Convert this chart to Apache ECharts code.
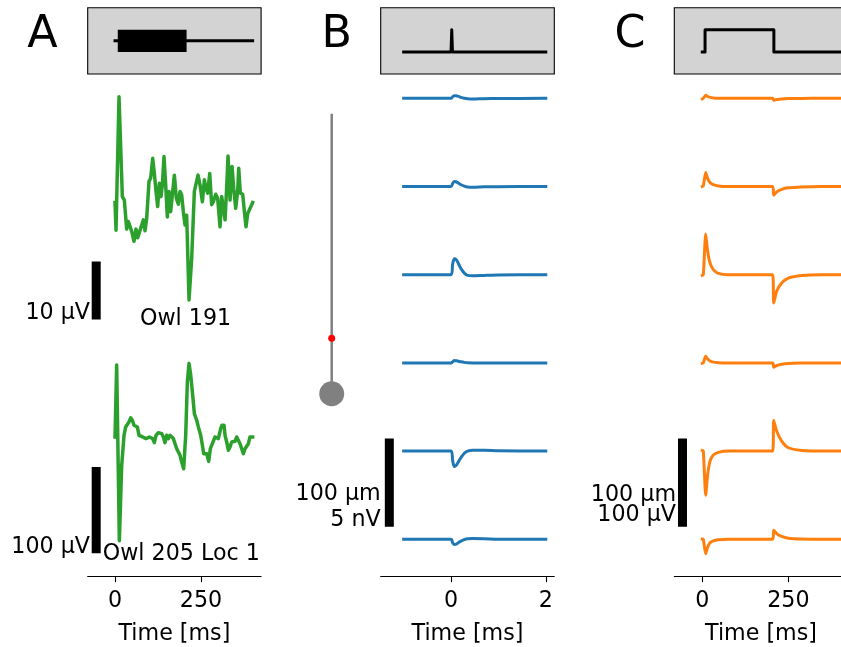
<!DOCTYPE html>
<html>
<head>
<meta charset="utf-8">
<title>Owl recordings</title>
<script src="https://cdn.jsdelivr.net/npm/echarts@6/dist/echarts.min.js"></script>
<style>
  html, body { margin: 0; padding: 0; background: #fff; }
  #main { width: 841px; height: 647px; }
</style>
</head>
<body>
<div id="main"></div>
<script>
// ---- data ----
// A: recorded traces, time in ms, voltage in uV
var aTime1 = [0, 2.9, 11.6, 21.3, 27.1, 33.9, 38.8, 43.6, 48.4, 55.2, 61.0, 65.9, 71.7, 77.5, 82.4, 87.2, 92.1, 98.8, 103.7, 109.5,
  114.3, 119.2, 124.0, 128.9, 133.7, 137.6, 142.4, 147.3, 152.1, 157.0, 161.8, 166.7, 172.5, 178.3, 184.1, 189.0, 193.8, 198.6, 203.5, 208.3,
  215.1, 222.9, 230.6, 235.5, 241.3, 247.1, 253.9, 259.7, 264.5, 269.4, 275.2, 281.0, 285.9, 292.6, 298.4, 305.2, 310.1, 315.9, 319.8, 324.6,
  328.5, 334.3, 340.1, 345.0, 350.8, 356.6, 359.5, 364.3, 371.1, 376.0, 380.8, 385.7, 390.5, 397.3, 400];
var aVolt1 = [0.1, -4.7, 18.3, 1.1, 0.5, -4.5, -3.2, -3.3, -4.9, -6.6, -4.5, -6.0, -4.9, -4.7, -2.9, -4.8, -2.6, 3.7, 4.3, 7.7,
  5.1, 2.0, -0.6, 3.4, 1.1, 3.1, 8.0, 3.1, -2.4, 2.0, -1.5, 1.4, 4.8, 0.8, -0.2, 2.0, 1.4, -1.5, -3.8, -2.1,
  -16.7, -9.5, 2.0, 2.2, 4.8, 3.1, 0.2, 4.0, 2.5, 1.7, 5.1, -0.3, 0.2, 1.5, 0.8, -4.1, 1.1, 1.1, -2.9, 2.8,
  8.1, 0.5, 6.3, 2.5, -0.9, 2.2, 6.0, 1.7, 1.5, -1.5, -4.1, -1.8, -1.6, -0.3, 0.1];
var aTime2 = [0, 4.8, 12.6, 19.4, 26.2, 31.0, 35.9, 40.7, 45.5, 50.4, 55.2, 60.1, 64.9, 69.8, 75.6, 80.4, 85.3, 90.1, 95.0, 99.8,
  104.7, 109.5, 114.3, 119.2, 126.0, 130.8, 135.7, 140.5, 145.3, 150.2, 155.0, 159.9, 164.7, 169.6, 174.4, 179.3, 184.1, 189.0, 193.8, 199.6,
  205.4, 210.3, 215.1, 220.0, 225.8, 230.6, 237.4, 242.2, 249.0, 253.9, 257.8, 261.6, 266.5, 272.3, 277.1, 281.0, 285.9, 290.7, 296.5, 300.4,
  307.2, 311.0, 316.9, 319.8, 324.6, 329.5, 334.3, 339.1, 344.0, 348.8, 353.7, 358.5, 363.4, 368.2, 373.1, 377.9, 382.8, 387.6, 392.4, 397.3, 400];
var aVolt2 = [0, 83.3, -120.2, -32.9, 1.9, 11.6, 13.6, 17.4, 22.1, 19.4, 13.6, 15.5, 11.6, 1.9, 1.9, 0, 0, -1.9, -3.9, 0,
  1.9, -1.9, -6.6, 1.9, 5.0, 5.8, 3.9, 0, -6.6, 1.9, -1.9, 1.9, 3.9, -1.9, -7.8, -13.6, -15.5, -21.3, -29.1, -36.8,
  1.9, 64.0, 85.3, 71.7, 48.4, 27.1, 19.4, 11.6, 1.9, -9.7, -19.4, -21.3, -19.4, -28.3, -13.6, -9.7, -11.6, 0, 1.9, -1.9,
  9.7, 13.6, 13.6, 1.9, -5.8, -15.5, -11.6, -5.8, -7.8, -5.0, 0, 1.9, -7.8, -13.6, -19.4, -13.6, -11.6, -7.8, 0, 1.9, 0];

// electrode depths for B and C, um (top trace first)
var depths = [500, 400, 300, 200, 100, 0];

// B: simulated traces, time in ms, nV
var bTime = [-1, 0, 0.035, 0.07, 0.105, 0.14, 0.175, 0.21, 0.28, 0.35, 0.46, 0.7, 1.0, 2];
var bValues = [
  [0, 0, 0.09, 0.15, 0.14, 0.12, 0.09, 0.05, 0.0, -0.03, -0.04, -0.02, -0.01, 0],
  [0, 0, 0.18, 0.28, 0.27, 0.22, 0.16, 0.10, 0.02, -0.03, -0.04, -0.02, -0.01, 0],
  [0, 0, 0.62, 0.91, 0.86, 0.72, 0.52, 0.34, 0.09, -0.04, -0.06, -0.04, -0.02, 0],
  [0, 0, 0.07, 0.13, 0.12, 0.11, 0.08, 0.06, 0.03, 0.01, 0, -0.01, 0, 0],
  [0, 0, -0.55, -0.87, -0.82, -0.68, -0.52, -0.37, -0.12, 0.0, 0.05, 0.05, 0.02, 0],
  [0, 0, -0.20, -0.30, -0.28, -0.22, -0.15, -0.10, -0.02, 0.03, 0.04, 0.03, 0.01, 0]
];

// C: simulated traces, time in ms, uV
var cTime = [0, 3, 9.8, 15.6, 22.4, 32, 46.6, 75.7, 204.6, 207.5, 216, 230.7, 250, 289, 347, 425];
var cValues = [
  [-0.8, 0, 3.4, 2.0, 1.0, 0.4, 0.1, 0, 0, -2.3, -1.4, -0.7, -0.3, -0.1, 0, 0],
  [0, 0.8, 15.9, 9.0, 4.5, 2.0, 0.6, 0, 0, -9.8, -6.2, -3.2, -1.5, -0.5, 0, 0],
  [-0.8, 0, 46, 26.5, 13.2, 5.7, 1.5, 0, 0, -32.1, -18.9, -9.4, -3.8, -0.8, 0, 0],
  [-0.5, 0, 7.6, 4.3, 2.1, 0.9, 0.3, 0, 0, -4.9, -3.0, -1.5, -0.6, -0.2, 0, 0],
  [0.8, 0, -50, -26.5, -11.3, -4.5, -1.5, 0, 0, 34.8, 22.7, 11.3, 3.8, 0.8, 0, 0],
  [0.3, 0, -16.3, -8.7, -4.0, -1.8, -0.6, 0, 0, 10.2, 6.5, 3.2, 1.2, 0.3, 0, 0]
];

// stimuli shown in the grey insets
var stimATime = [0, 400];          // recording window
var stimABar = [8, 208];           // stimulus on
var stimBTime = [-1, 0, 0.015, 0.03, 2];
var stimBVal = [0, 0, 1, 0, 0];
var stimCTime = [0, 8, 8, 208, 208, 425];
var stimCVal = [0, 0, 1, 1, 0, 0];

// neuron morphology (um, same scale as electrode depths)
var dendriteTop = 481, somaDepth = 165, synapseDepth = 228;

// scale bars: [x position, bottom, length]
var barA1 = [-54.7, -20.1, 10];     // 10 uV
var barA2 = [-54.7, -134.9, 100];   // 100 uV
var barB = [-1.303, 14.3, 100];     // 100 um / 5 nV
var barC = [-57.6, 14.3, 100];      // 100 um / 100 uV
var nVperUm = 5 / 100, uVperUm = 100 / 100;

// ---- chart ----
var FONT = 'DejaVu Sans';
var GREEN = '#2ca02c', BLUE = '#1f77b4', ORANGE = '#ff7f0e';

function zip(xs, ys) {
  return xs.map(function (x, i) { return [x, ys[i]]; });
}
function hidden(min, max) {
  return { type: 'value', show: false, min: min, max: max, splitLine: { show: false } };
}
function timeAxis(gridIndex, min, max, ticks) {
  return {
    type: 'value', gridIndex: gridIndex, min: min, max: max,
    axisLine: { show: true, onZero: false, lineStyle: { color: '#000', width: 1.1 } },
    axisTick: { show: true, length: 5.5, customValues: ticks, lineStyle: { color: '#000', width: 1.1 } },
    axisLabel: { customValues: ticks, fontSize: 22.2, fontFamily: FONT, color: '#000', margin: 14 },
    splitLine: { show: false },
    name: 'Time [ms]', nameLocation: 'middle', nameGap: 47,
    nameTextStyle: { fontSize: 22.2, fontFamily: FONT, color: '#000' }
  };
}
function grid(left, top, width, height, inset) {
  var g = { left: left, top: top, width: width, height: height, containLabel: false, outerBoundsMode: 'none' };
  if (inset) {
    g.show = true; g.backgroundColor = '#d3d3d3'; g.borderColor = '#000'; g.borderWidth = 1.1;
  }
  return g;
}
function line(idx, data, color, width, extra) {
  var s = {
    type: 'line', xAxisIndex: idx, yAxisIndex: idx, data: data,
    showSymbol: false, symbol: 'none', silent: true, animation: false,
    lineStyle: { color: color, width: width, cap: 'square', join: 'round' }
  };
  for (var k in extra) s[k] = extra[k];
  return s;
}
function bar(idx, b) {
  return line(idx, [[b[0], b[1]], [b[0], b[1] + b[2]]], '#000', 9, { lineStyle: { color: '#000', width: 9, cap: 'butt' } });
}
function text(str, x, y, align, size) {
  return {
    type: 'text', z: 100, silent: true,
    style: { text: str, x: x, y: y, align: align, verticalAlign: 'middle', fontSize: size || 22.2, fontFamily: FONT, fill: '#000' }
  };
}

var aMin = -79.4, aMax = 424.6, cMin = -81.4, cMax = 422.6, bMin = -1.485, bMax = 2.18;
var dMin = -42.4, dMax = 519.6;

var grids = [
  grid(87.7, 7.7, 173.4, 66.3, true),    // 0 A inset
  grid(87.7, 85, 173.4, 240),            // 1 A upper trace
  grid(87.7, 340, 173.4, 236.7),         // 2 A lower trace
  grid(380.7, 7.7, 173.6, 66.3, true),   // 3 B inset
  grid(380.7, 81, 173.6, 495.7),         // 4 B traces
  grid(299.7, 81, 64, 495.7),            // 5 neuron
  grid(674.3, 7.7, 173.4, 66.3, true),   // 6 C inset
  grid(674.3, 81, 173.4, 495.7)          // 7 C traces
];

var xAxes = [
  hidden(aMin, aMax),
  hidden(aMin, aMax),
  timeAxis(2, aMin, aMax, [0, 250]),
  hidden(bMin, bMax),
  timeAxis(4, bMin, bMax, [0, 2]),
  hidden(-1, 1),
  hidden(cMin, cMax),
  timeAxis(7, cMin, cMax, [0, 250])
];
var yAxes = [
  hidden(-1, 2), hidden(-21.03, 20.34), hidden(-162.0, 112.4),
  hidden(-1, 2), hidden(dMin, dMax), hidden(dMin, dMax),
  hidden(-1, 2), hidden(dMin, dMax)
];
xAxes.forEach(function (a, i) { a.gridIndex = i; });
yAxes.forEach(function (a, i) { a.gridIndex = i; });

var series = [];
// A
series.push(line(0, zip(stimATime, [0.5, 0.5]), '#000', 3));
series.push(line(0, zip(stimABar, [0.5, 0.5]), '#000', 22, { lineStyle: { color: '#000', width: 22.1, cap: 'butt' } }));
series.push(line(1, zip(aTime1, aVolt1), GREEN, 3.5));
series.push(line(2, zip(aTime2, aVolt2), GREEN, 3.5));
series.push(bar(1, barA1));
series.push(bar(2, barA2));
// B
series.push(line(3, zip(stimBTime, stimBVal), '#000', 3));
bValues.forEach(function (vals, i) {
  series.push(line(4, bTime.map(function (t, j) { return [t, depths[i] + vals[j] / nVperUm]; }), BLUE, 3, { smooth: 0.3 }));
});
series.push(bar(4, barB));
series.push(line(5, [[0, dendriteTop], [0, somaDepth]], '#808080', 2.5));
series.push({ type: 'scatter', xAxisIndex: 5, yAxisIndex: 5, data: [[0, somaDepth]], symbolSize: 25,
  itemStyle: { color: '#808080', opacity: 1 }, silent: true, animation: false });
series.push({ type: 'scatter', xAxisIndex: 5, yAxisIndex: 5, data: [[0, synapseDepth]], symbolSize: 7,
  itemStyle: { color: '#ff0000', opacity: 1 }, silent: true, animation: false, z: 5 });
// C
series.push(line(6, zip(stimCTime, stimCVal), '#000', 3));
cValues.forEach(function (vals, i) {
  series.push(line(7, cTime.map(function (t, j) { return [t, depths[i] + vals[j] / uVperUm]; }), ORANGE, 3, { smooth: 0.2 }));
});
series.push(bar(7, barC));

var option = {
  backgroundColor: '#fff',
  animation: false,
  grid: grids,
  xAxis: xAxes,
  yAxis: yAxes,
  series: series,
  graphic: [
    text('A', 42.5, 35, 'center', 44.4),
    text('B', 336.8, 35, 'center', 44.4),
    text('C', 630, 35, 'center', 44.4),
    text('10 μV', 90, 313, 'right'),
    text('Owl 191', 140, 319.5, 'left'),
    text('100 μV', 90, 547.5, 'right'),
    text('Owl 205 Loc 1', 102.7, 554.5, 'left'),
    text('100 μm', 380.7, 494.5, 'right'),
    text('5 nV', 380.7, 520.5, 'right'),
    text('100 μm', 676, 495, 'right'),
    text('100 μV', 676, 515, 'right')
  ]
};

var chart = echarts.init(document.getElementById('main'), null, { renderer: 'canvas' });
chart.setOption(option);
</script>
</body>
</html>
